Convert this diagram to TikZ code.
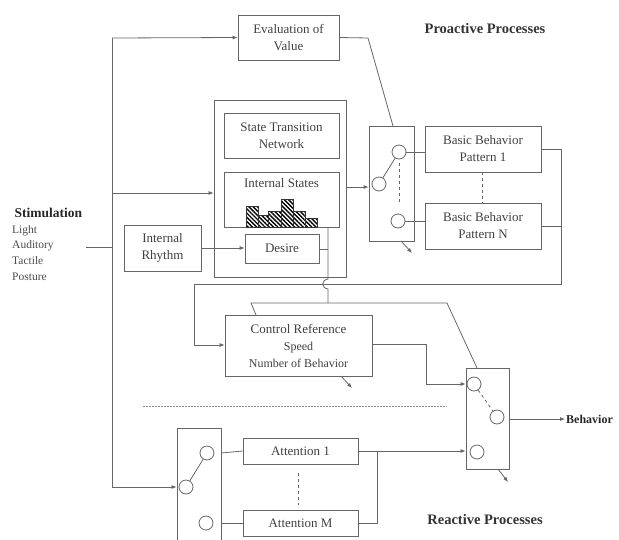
\documentclass[tikz,border=0pt]{standalone}
\usepackage{fontspec}
\setmainfont{Liberation Serif}
\usetikzlibrary{arrows.meta,patterns.meta}
\begin{document}
\begin{tikzpicture}[x=1pt,y=-1pt,
  ln/.style={draw=black!60,line width=0.8pt},
  arr/.style={ln,-{Latex[length=5pt,width=4pt]}},
  box/.style={ln,rectangle,inner sep=0pt,align=center,text=black!75,
     font=\fontsize{13}{17}\selectfont},
  sw/.style={ln,circle,minimum size=14pt,inner sep=0pt},
  bar/.style={draw=black!80,line width=0.6pt,pattern={Lines[angle=-45,distance=3pt,line width=1.4pt]}},
  ttl/.style={text=black!80,font=\fontsize{14.5}{17}\selectfont\bfseries},
]
\useasboundingbox (0,0) rectangle (619,539);
% boxes
\node[box,minimum width=101pt,minimum height=45pt] (eval) at (288.5,37.5) {Evaluation of\\Value};
\node[box,minimum width=132pt,minimum height=177pt] (outer) at (280,188.5) {};
\node[box,minimum width=115pt,minimum height=45pt] (stn) at (281.5,135.5) {State Transition\\Network};
\node[box,minimum width=115pt,minimum height=55pt] (ist) at (281.5,199.5) {};
\node[text=black!75,font=\fontsize{13}{17}\selectfont,anchor=center] (istl) at (281.5,183) {Internal States};
% histogram
\draw[bar] (246,227) rectangle (258,206);
\draw[bar] (258,227) rectangle (268,215);
\draw[bar] (268,227) rectangle (281,211);
\draw[bar] (281,227) rectangle (293,199);
\draw[bar] (293,227) rectangle (305,211);
\draw[bar] (305,227) rectangle (317,218);
\node[box,minimum width=74pt,minimum height=29pt] (desire) at (282,248.5) {Desire};
\node[box,minimum width=77pt,minimum height=46pt] (rhythm) at (162.5,248) {Internal\\Rhythm};
\node[box,minimum width=45pt,minimum height=115pt] (psw) at (391.5,183.5) {};
\node[box,minimum width=116pt,minimum height=46pt] (bbp1) at (483,149) {Basic Behavior\\Pattern 1};
\node[box,minimum width=116pt,minimum height=46pt] (bbpn) at (483,226) {Basic Behavior\\Pattern N};
\node[box,minimum width=147pt,minimum height=61pt] (cr) at (298.5,345.5) {Control Reference\\{\fontsize{12}{17}\selectfont Speed}\\{\fontsize{12}{17}\selectfont Number of Behavior}};
\node[box,minimum width=43pt,minimum height=101pt] (rsw) at (487.5,418.5) {};
\node[box,minimum width=44pt,minimum height=124pt] (lsw) at (199,490) {};
\node[box,minimum width=115pt,minimum height=26pt] (att1) at (300.5,451) {Attention 1};
\node[box,minimum width=115pt,minimum height=26pt] (attm) at (300.5,523) {Attention M};
% switch circles
\node[sw] (p1) at (399,152) {};
\node[sw] (p0) at (379,184) {};
\node[sw] (pn) at (398,221) {};
\node[sw] (r1) at (474,384) {};
\node[sw] (r0) at (497,417) {};
\node[sw] (r2) at (477,452) {};
\node[sw] (l1) at (207,453) {};
\node[sw] (l0) at (186,487) {};
\node[sw] (l2) at (206,523) {};
% texts
\node[anchor=west,text=black!85,font=\fontsize{13.5}{16}\selectfont\bfseries] (stim) at (11,213) {Stimulation};
\node[anchor=north west,align=left,text=black!70,font=\fontsize{11.5}{15.7}\selectfont,inner sep=0pt] (stiml) at (12,225) {Light\\Auditory\\Tactile\\Posture};
\node[ttl] (pro) at (485,29) {Proactive Processes};
\node[ttl] (rea) at (485,520) {Reactive Processes};
\node[anchor=west,inner sep=1pt,text=black!85,font=\fontsize{12}{15}\selectfont\bfseries] (beh) at (565,419) {Behavior};
% coordinates
\coordinate (s0) at (86,247);
\coordinate (bus) at (112,247);
\coordinate (bt) at (112,38);
\coordinate (bb) at (112,487);
% connectors
\draw[ln] (s0) -- (bus);
\draw[ln] (bt) -- (bb);
\draw[arr] (bt) -- (eval.west);
\draw[arr] (112,193) -- (outer.west |- 0,193);
\draw[arr] (bb) -- (lsw.west |- bb);
\draw[arr] (rhythm.east) -- (desire.west |- rhythm.east);
\draw[arr] (outer.east |- 0,187) -- (psw.west |- 0,187);
\draw[ln] (eval.east) -- (368,38) -- (393,126);
\draw[ln] (p0) -- (p1);
\draw[ln] (p1.east) -- (bbp1.west |- p1);
\draw[ln] (pn.east) -- (bbpn.west |- pn);
\draw[ln,dashed] (399,163) -- (399,202);
\draw[ln,dashed] (482,172) -- (482,203);
\draw[ln] (bbp1.east) -- (561,149) -- (561,284) -- (194,284) -- (194,345);
\draw[arr] (194,345) -- (cr.west |- 0,345);
\draw[ln] (bbpn.east) -- (561,226);
\draw[ln] (328,227) -- (328,279) .. controls (321,280) and (321,288) .. (328,289) -- (328,303);
\draw[ln] (desire.east |- 0,249) -- (328,249);
\draw[ln] (256,315) -- (251,303) -- (447,303) -- (477,368);
\draw[ln] (cr.east |- 0,344) -- (426,344) -- (426,384);
\draw[arr] (426,384) -- (rsw.west |- 0,384);
\draw[arr] (att1.east) -- (rsw.west |- att1.east);
\draw[ln] (377,451) -- (377,523) -- (attm.east);
\draw[arr] (rsw.east |- 0,419) -- (beh.west);
\draw[ln,dash pattern=on 3pt off 3pt] (r1) -- (r0);
\draw[ln] (l0) -- (l1);
\draw[ln] (lsw.east |- l1) -- (att1.west);
\draw[ln] (lsw.east |- l2) -- (attm.west);
\draw[ln,dashed] (298,473) -- (298,505);
\draw[arr] (401,241) -- (412,253);
\draw[arr] (341,376) -- (352,388);
\draw[arr] (498,469) -- (508,482);
\draw[draw=black!45,line width=0.8pt,dash pattern=on 1.5pt off 1.5pt] (143,406) -- (447,406);
\end{tikzpicture}
\end{document}
